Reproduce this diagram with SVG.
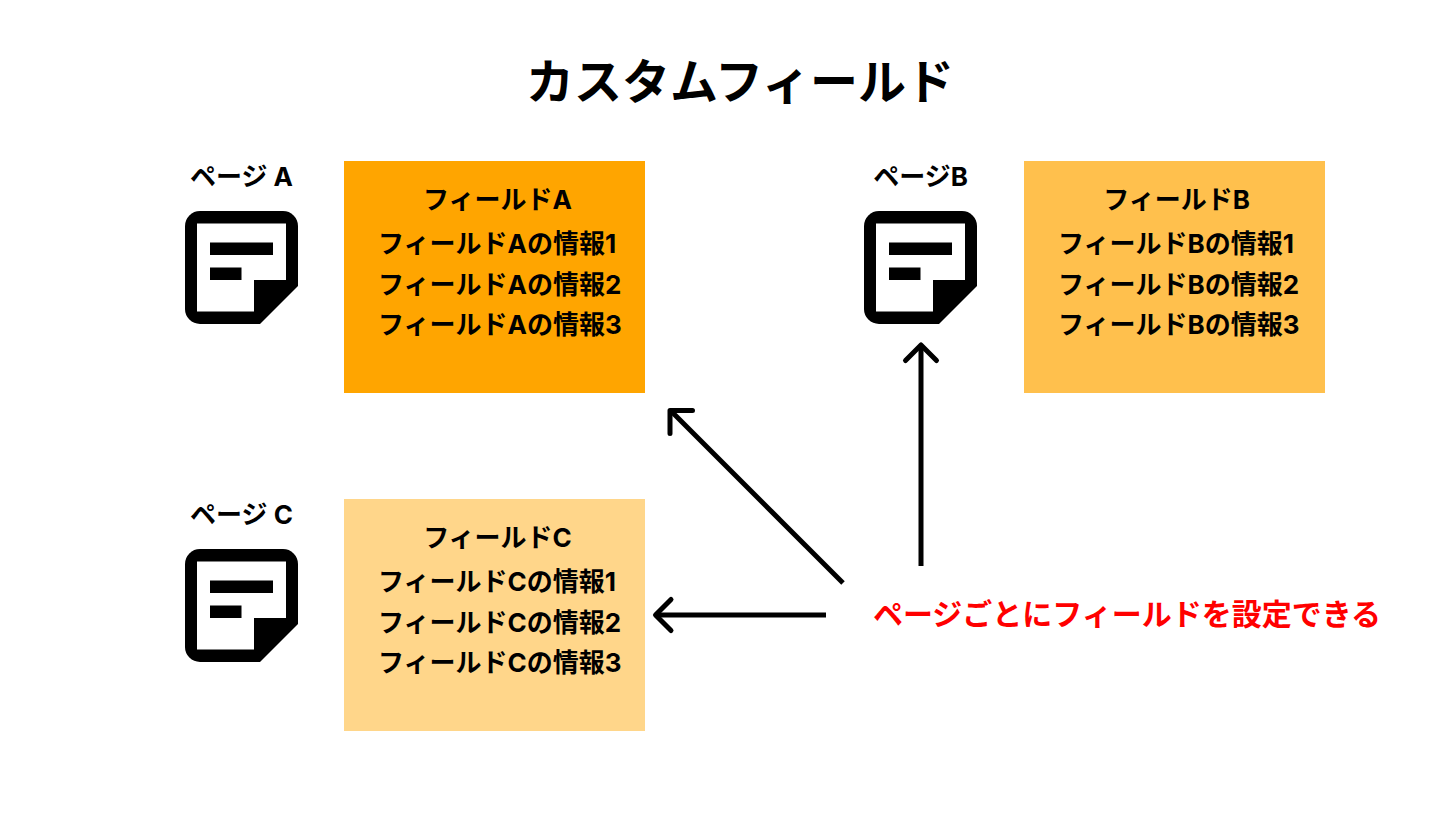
<svg xmlns="http://www.w3.org/2000/svg" width="1440" height="821" viewBox="0 0 1440 821">
<style>
text{font-family:Inter,"Noto Sans CJK JP","Noto Sans",sans-serif;font-weight:700;fill:#000;text-anchor:middle}
.t{font-size:26px}
.s{font-size:26px;text-anchor:start}
.title{font-size:48px}
.r{font-size:30px;fill:#ff0000}
.line{fill:none;stroke:#000;stroke-width:5}
.head{fill:none;stroke:#000;stroke-width:5;stroke-linecap:round;stroke-linejoin:round}
</style>
<defs>
<g id="note">
<path d="M15 0H98a15 15 0 0 1 15 15V75L75 113H15A15 15 0 0 1 0 98V15A15 15 0 0 1 15 0Z" fill="#000"/>
<path d="M12 12.500H101V69H69V100.500H12Z" fill="#fff"/>
<rect x="25" y="31.500" width="63" height="12.500" fill="#000"/>
<rect x="25" y="56.500" width="31.500" height="12.500" fill="#000"/>
</g>
</defs>
<rect width="1440" height="821" fill="#fff"/>
<text id="title" class="title" x="740" y="99">カスタムフィールド</text>
<g id="page-a"><text class="t" x="241.500" y="186">ページ A</text><use href="#note" x="185" y="211"/></g>
<g id="page-b"><text class="t" x="920.500" y="186">ページB</text><use href="#note" x="864" y="211"/></g>
<g id="page-c"><text class="t" x="241.500" y="524">ページ C</text><use href="#note" x="185" y="549"/></g>
<g id="field-a"><rect x="344" y="161" width="301" height="232" fill="#ffa500"/>
<text class="t" x="497.500" y="209">フィールドA</text><text class="s" x="378" y="253">フィールドAの情報1</text><text class="s" x="378" y="294">フィールドAの情報2</text><text class="s" x="378" y="334">フィールドAの情報3</text></g>
<g id="field-b"><rect x="1024" y="161" width="301" height="232" fill="#ffc04d"/>
<text class="t" x="1176.500" y="209">フィールドB</text><text class="s" x="1058" y="253">フィールドBの情報1</text><text class="s" x="1058" y="294">フィールドBの情報2</text><text class="s" x="1058" y="334">フィールドBの情報3</text></g>
<g id="field-c"><rect x="344" y="499" width="301" height="232" fill="#ffd68a"/>
<text class="t" x="497.500" y="547">フィールドC</text><text class="s" x="378" y="591">フィールドCの情報1</text><text class="s" x="378" y="632">フィールドCの情報2</text><text class="s" x="378" y="672">フィールドCの情報3</text></g>
<g id="connectors">
<path class="line" d="M921 566V347"/><path class="head" d="M905.500 360.500L921 345L936.500 360.500"/>
<path class="line" d="M843 583L671 411"/><path class="head" d="M670 433.500V410.500H692.500"/>
<path class="line" d="M826 615H657"/><path class="head" d="M671 599.500L655.500 615L671 630.500"/>
</g>
<text id="note-label" class="r" x="1127" y="625">ページごとにフィールドを設定できる</text>
</svg>
